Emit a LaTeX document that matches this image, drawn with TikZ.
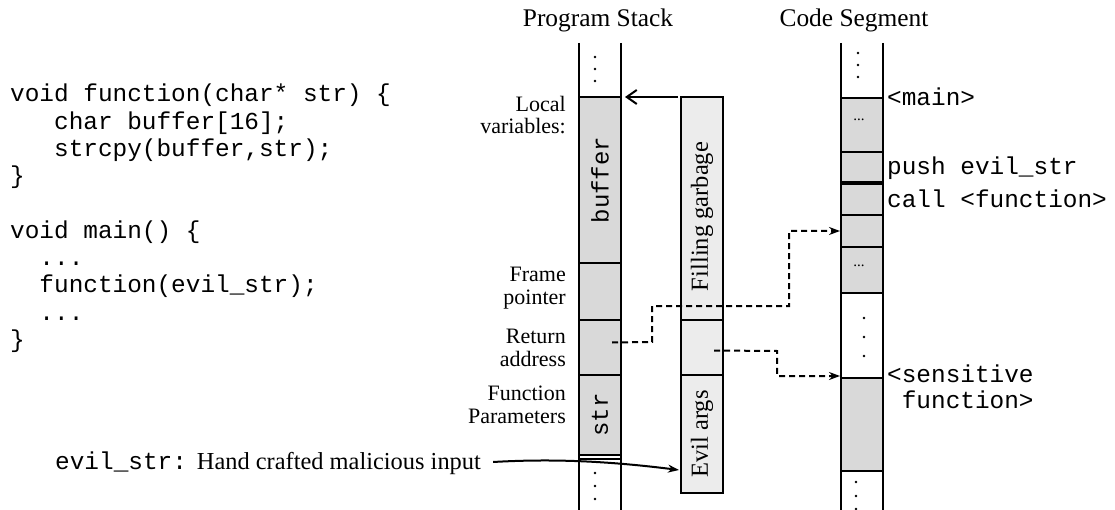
\documentclass[tikz,border=0pt]{standalone}
\usepackage{fontspec}
\setmainfont{Liberation Serif}
\setmonofont{Liberation Mono}
\usetikzlibrary{arrows.meta,calc}
\definecolor{sgray}{RGB}{217,217,217}
\definecolor{lgray}{RGB}{236,236,236}
\begin{document}
\begin{tikzpicture}[x=1pt,y=-1pt,
  colline/.style={line width=2.4pt},
  seg/.style={draw, line width=2.4pt, fill=sgray, minimum width=42pt, inner sep=0pt, outer sep=0pt, anchor=north west},
  lseg/.style={seg, fill=lgray},
  lab/.style={font=\fontsize{22}{22.5}\selectfont, align=right, anchor=east, inner sep=0pt},
  title/.style={font=\fontsize{25.4}{28}\selectfont, inner sep=0pt},
  code/.style={font=\ttfamily\fontsize{24.4}{27.3}\selectfont, align=left, anchor=west, inner sep=0pt},
  vtt/.style={font=\ttfamily\fontsize{24}{26}\selectfont, rotate=90, inner sep=0pt},
  vrm/.style={font=\fontsize{24.5}{27}\selectfont, rotate=90, inner sep=0pt},
  small/.style={font=\fontsize{15}{16}\selectfont, inner sep=0pt},
  darr/.style={line width=2pt, dash pattern=on 6pt off 4pt, -{Stealth[length=11pt,width=8pt]}},
  sarr/.style={line width=2pt},
  dot/.style={fill=black}
]
\useasboundingbox (0,0) rectangle (1115,510);

% titles
\node[title] (tps) at (598,20) {Program Stack};
\node[title] (tcs) at (854,20) {Code Segment};

% source code
\node[code, anchor=north west] (src) at (10,84) {void function(char* str) \{\\
\phantom{xxx}char buffer[16];\\
\phantom{xxx}strcpy(buffer,str);\\
\}\\[27.3pt]
void main() \{\\
\phantom{xx}...\\
\phantom{xx}function(evil\_str);\\
\phantom{xx}...\\
\}};

% ---------- program stack ----------
\draw[colline] (579,43) -- (579,510);
\draw[colline] (621,43) -- (621,510);
\foreach \yy in {57,69,81} \fill[dot] (595,\yy) circle (1.3);
\node[seg, minimum height=166pt] (buf) at (579,97) {};
\node[vtt] at (buf.center) {buffer};
\node[seg, minimum height=57pt] (frm) at (579,263) {};
\node[seg, minimum height=55pt] (ret) at (579,320) {};
\node[seg, minimum height=80pt] (str) at (579,375) {};
\node[vtt] at (str.center) {str};
\draw[line width=1.5pt] (579,459) -- (621,459);
\foreach \yy in {473,486,499} \fill[dot] (595,\yy) circle (1.3);

\node[lab] (lloc) at (566,115) {Local\\variables:};
\node[lab] (lfrm) at (566,288) {Frame\\pointer};
\node[lab] (lret) at (566,348) {Return\\address};
\node[lab] (lpar) at (566,405) {Function\\Parameters};

% ---------- attack payload ----------
\node[lseg, minimum height=223pt] (fill) at (681,97) {};
\node[vrm] at ($(fill.center)+(0,8)$) {Filling garbage};
\node[lseg, minimum height=55pt] (fret) at (681,320) {};
\node[lseg, minimum height=118pt] (eargs) at (681,375) {};
\node[vrm] at (eargs.center) {Evil args};

% ---------- code segment ----------
\draw[colline] (841,43) -- (841,510);
\draw[colline] (883,43) -- (883,510);
\foreach \yy in {53,65,77} \fill[dot] (858,\yy) circle (1.3);
\node[seg, minimum height=54pt] (cs1) at (841,98) {};
\node[small] at ($(cs1.center)+(-3,-5)$) {...};
\node[seg, minimum height=31pt] (cs2) at (841,152) {};
\node[seg, minimum height=32pt] (cs3) at (841,183) {};
\node[seg, minimum height=32pt] (cs4) at (841,215) {};
\node[seg, minimum height=46pt] (cs5) at (841,247) {};
\node[small] at ($(cs5.center)+(-3,-4)$) {...};
\draw[line width=3.5pt] (841,183) -- (883,183);
\foreach \yy in {318,337,356} \fill[dot] (864,\yy) circle (1.3);
\node[seg, minimum height=93pt] (cs6) at (841,378) {};
\foreach \yy in {482,496,509} \fill[dot] (856,\yy) circle (1.3);

\node[code] (lmain) at (887,97) {<main>};
\node[code] (lpush) at (887,168) {push evil\_str};
\node[code] (lcall) at (887,199) {call <function>};
\node[code] (lsens) at (887,374) {<sensitive};
\node[code] (lsens2) at (887,400) {\phantom{x}function>};

% ---------- input ----------
\node[code, font=\fontsize{24.4}{27}\selectfont] (evil) at (55,463) {{\ttfamily evil\_str:}\hspace{10pt}Hand crafted malicious input};

% ---------- connectors ----------
\draw[sarr, -{Straight Barb[length=10pt,width=14pt]}, shorten <=3pt, shorten >=4pt] (fill.north west) -- (buf.north east);
\draw[darr] ($(ret.center)+(12,-5)$) -- (652,342) -- (652,306) -- (789,306) |- ($(cs4.west)+(-1,0)$);
\draw[darr] ($(fret.center)+(12,3)$) -- (777,351) |- ($(cs6.north west)+(-1,-2)$);
\draw[line width=2pt, -{Stealth[length=11pt,width=8pt]}] ($(evil.east)+(12,-1)$) .. controls (545,459) and (600,460) .. ($(eargs.west)+(-2,36)$);
\end{tikzpicture}
\end{document}
